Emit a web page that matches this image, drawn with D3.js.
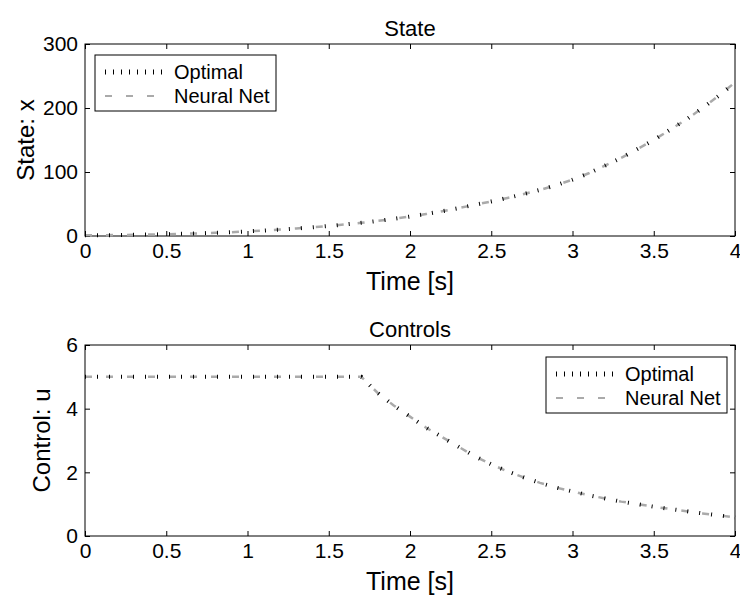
<!DOCTYPE html>
<html>
<head>
<meta charset="utf-8">
<script src="https://cdn.jsdelivr.net/npm/d3@7"></script>
<style>
body { margin: 0; background: #fff; }
text { font-family: "Liberation Sans", Arial, sans-serif; fill: #000; }
</style>
</head>
<body>
<div id="plot"></div>
<script>
// time samples (s)
var times = [0,0.1,0.2,0.3,0.4,0.5,0.6,0.7,0.8,0.9,1.0,1.1,1.2,1.3,1.4,1.5,1.6,1.7,1.8,1.9,2.0,
             2.1,2.2,2.3,2.4,2.5,2.6,2.7,2.8,2.9,3.0,3.1,3.2,3.3,3.4,3.5,3.6,3.7,3.8,3.9,4.0];
// state x, optimal and neural net
var stateOpt = [1,1.2,1.5,1.9,2.3,2.8,3.4,4.1,5,6,7.2,8.5,10,11.7,13.6,15.7,18,20.6,23.5,26.8,30.4,
                34.4,38.8,43.6,48.8,54,59.5,65.5,72,79.5,88,98,110,122,136,150,166,182,200,219,240];
var stateNN  = [1,1.2,1.5,1.9,2.3,2.8,3.4,4.1,5,6,7.2,8.5,10,11.7,13.6,15.7,18,20.6,23.5,26.8,30.4,
                34.4,38.8,43.6,48.8,54,59.5,65.5,72,79.5,88,98,110,122,136,150,166,182,200,219,240];
// control u, optimal and neural net
var ctrlOpt = [5,5,5,5,5,5,5,5,5,5,5,5,5,5,5,5,5,5,4.5,4.1,3.75,
               3.4,3.1,2.8,2.5,2.25,2.03,1.84,1.67,1.52,1.4,1.28,1.18,1.08,1.0,0.92,0.85,0.78,0.71,0.65,0.58];
var ctrlNN  = [5,5,5,5,5,5,5,5,5,5,5,5,5,5,5,5,5,5,4.5,4.1,3.75,
               3.4,3.1,2.8,2.5,2.25,2.03,1.84,1.67,1.52,1.4,1.28,1.18,1.08,1.0,0.92,0.85,0.78,0.71,0.65,0.58];

var xTicks = [0,0.5,1,1.5,2,2.5,3,3.5,4];
var stateTicks = [0,100,200,300];
var ctrlTicks = [0,2,4,6];
var legendNames = ["Optimal","Neural Net"];

var width = 740, height = 600;
var left = 85, right = 735;

var svg = d3.select("#plot").append("svg")
    .attr("width", width)
    .attr("height", height);

var optStyle = {stroke: "#000", width: 4, dash: "1,11"};
var nnStyle = {stroke: "#aaa", width: 2.5, dash: "7,14"};

function panel(cfg){
    var xScale = d3.scaleLinear().domain([0,4]).range([left, right]);
    var yScale = d3.scaleLinear().domain(cfg.ydomain).range([cfg.bottom, cfg.top]);

    var g = svg.append("g");

    // frame
    g.append("rect")
        .attr("x", left).attr("y", cfg.top)
        .attr("width", right-left).attr("height", cfg.bottom-cfg.top)
        .attr("fill", "none").attr("stroke", "#000").attr("stroke-width", 1);

    // axes with inward ticks
    var xb = g.append("g").attr("transform", "translate(0," + cfg.bottom + ")")
        .call(d3.axisBottom(xScale).tickValues(xTicks).tickSize(-5).tickPadding(6).tickFormat(d3.format("")));
    var xt = g.append("g").attr("transform", "translate(0," + cfg.top + ")")
        .call(d3.axisTop(xScale).tickValues(xTicks).tickSize(-5).tickFormat(""));
    var yl = g.append("g").attr("transform", "translate(" + left + ",0)")
        .call(d3.axisLeft(yScale).tickValues(cfg.yticks).tickSize(-5).tickPadding(7).tickFormat(d3.format("")));
    var yr = g.append("g").attr("transform", "translate(" + right + ",0)")
        .call(d3.axisRight(yScale).tickValues(cfg.yticks).tickSize(-5).tickFormat(""));
    [xb, xt, yl, yr].forEach(function(a){
        a.select(".domain").remove();
        a.selectAll("line").attr("stroke", "#000");
        a.selectAll("text").style("font-size", "21px").attr("fill", "#000");
    });
    xb.selectAll("text").attr("dy", "0.75em");

    // curves
    var line = d3.line()
        .x(function(d){ return xScale(d[0]); })
        .y(function(d){ return yScale(d[1]); });
    var optData = times.map(function(t,i){ return [t, cfg.opt[i]]; });
    var nnData = times.map(function(t,i){ return [t, cfg.nn[i]]; });

    g.append("path").datum(nnData).attr("d", line)
        .attr("fill", "none").attr("stroke", nnStyle.stroke)
        .attr("stroke-width", nnStyle.width).attr("stroke-dasharray", nnStyle.dash);
    g.append("path").datum(optData).attr("d", line)
        .attr("fill", "none").attr("stroke", optStyle.stroke)
        .attr("stroke-width", optStyle.width).attr("stroke-dasharray", optStyle.dash);

    // title and labels
    svg.append("text").attr("x", (left+right)/2).attr("y", cfg.top - 8)
        .attr("text-anchor", "middle").style("font-size", "22px").text(cfg.title);
    svg.append("text").attr("x", (left+right)/2).attr("y", cfg.bottom + 54)
        .attr("text-anchor", "middle").style("font-size", "25px").text("Time [s]");
    svg.append("text")
        .attr("transform", "translate(" + cfg.ylabelX + "," + ((cfg.top+cfg.bottom)/2) + ") rotate(-90)")
        .attr("text-anchor", "middle").style("font-size", "24px").text(cfg.ylabel);

    // legend
    var lg = g.append("g").attr("transform", "translate(" + cfg.legend[0] + "," + cfg.legend[1] + ")");
    lg.append("rect").attr("width", cfg.legend[2]).attr("height", 56)
        .attr("fill", "#fff").attr("stroke", "#000").attr("stroke-width", 1);
    [optStyle, nnStyle].forEach(function(s, i){
        var yy = 17 + i*24;
        lg.append("line").attr("x1", 10).attr("x2", 70).attr("y1", yy).attr("y2", yy)
            .attr("stroke", s.stroke).attr("stroke-width", i == 0 ? 5 : 2)
            .attr("stroke-dasharray", i == 0 ? "1,7" : "7,14");
        lg.append("text").attr("x", 79).attr("y", yy + 7)
            .style("font-size", "20px").text(legendNames[i]);
    });
}

panel({top: 44, bottom: 236, ydomain: [0,300], yticks: stateTicks, opt: stateOpt, nn: stateNN,
       title: "State", ylabel: "State: x", ylabelX: 34, legend: [95, 55, 181]});
panel({top: 345, bottom: 536, ydomain: [0,6], yticks: ctrlTicks, opt: ctrlOpt, nn: ctrlNN,
       title: "Controls", ylabel: "Control: u", ylabelX: 50, legend: [546, 357, 181]});
</script>
</body>
</html>
